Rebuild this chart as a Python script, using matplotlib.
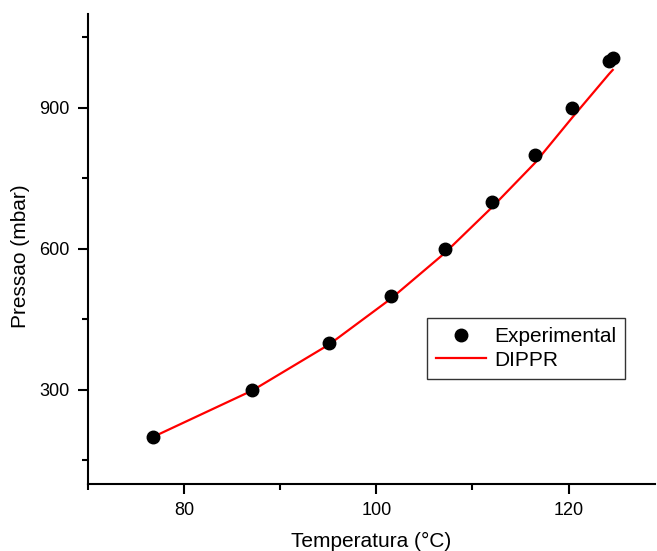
import matplotlib.pyplot as plt
from matplotlib.ticker import MultipleLocator

plt.rcParams['font.family'] = ['Liberation Sans', 'DejaVu Sans']

# Experimental vapour pressure data
temp_exp = [76.75, 87.1, 95.1, 101.5, 107.1, 112.0, 116.5, 120.4, 124.2, 124.6]
pres_exp = [200, 300, 400, 500, 600, 700, 800, 900, 1000, 1007]

# DIPPR correlation
temp_dippr = [76.75, 87.1, 95.1, 101.5, 107.1, 112.0, 116.5, 120.4, 124.2, 124.6]
pres_dippr = [200, 299, 397, 494, 591, 688, 783, 880, 972, 981]

fig = plt.figure(figsize=(6.57, 5.51), dpi=100)
ax = fig.add_axes([0.134, 0.1216, 0.863, 0.853])

ax.plot(temp_exp, pres_exp, 'o', color='black', markersize=9, label='Experimental', zorder=3)
ax.plot(temp_dippr, pres_dippr, '-', color='red', lw=1.6, label='DIPPR', zorder=2)

ax.set_xlim(70, 129)
ax.set_ylim(100, 1100)
ax.xaxis.set_major_locator(MultipleLocator(20))
ax.xaxis.set_minor_locator(MultipleLocator(10))
ax.yaxis.set_major_locator(MultipleLocator(300))
ax.yaxis.set_minor_locator(MultipleLocator(150))

for s in ['top', 'right']:
    ax.spines[s].set_visible(False)
for s in ['left', 'bottom']:
    ax.spines[s].set_linewidth(1.5)

ax.tick_params(which='major', direction='out', length=7, width=1.5, labelsize=13, pad=6)
ax.tick_params(which='minor', direction='out', length=4, width=1.5)

ax.set_xlabel('Temperatura (°C)', fontsize=15, labelpad=9)
ax.set_ylabel('Pressao (mbar)', fontsize=15)
ax.yaxis.set_label_coords(-0.103, 0.485)

leg = ax.legend(loc='upper left', bbox_to_anchor=(0.598, 0.353), borderaxespad=0,
                fontsize=15, frameon=True, fancybox=False, edgecolor='black',
                handlelength=2.4, handletextpad=0.35, borderpad=0.45, labelspacing=0.2)
leg.get_frame().set_linewidth(1.0)

fig.savefig('out.png', dpi=100)
